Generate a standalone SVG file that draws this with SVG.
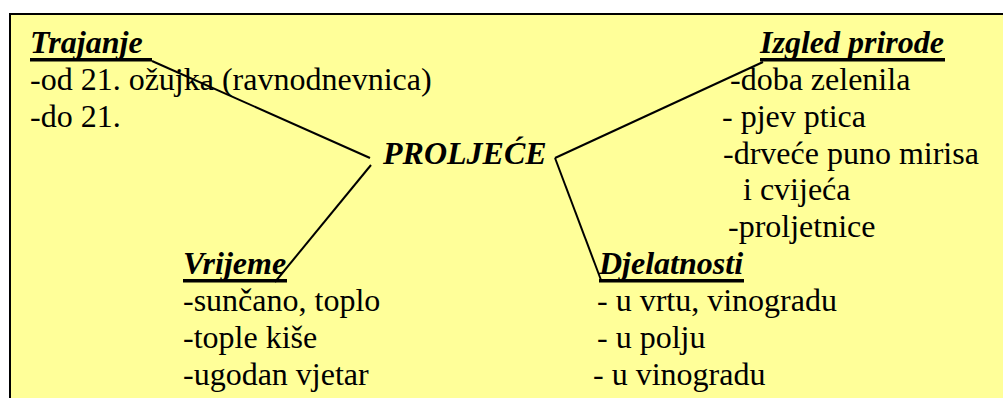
<svg xmlns="http://www.w3.org/2000/svg" width="1003" height="398" viewBox="0 0 1003 398">
  <style>
    text { font-family: "Liberation Serif", "Times New Roman", serif; font-size: 32px; fill: #000; }
    .head { font-weight: bold; font-style: italic; }
    .ul { fill: #000; }
    .conn { stroke: #000; stroke-width: 2; fill: none; }
  </style>
  <rect x="0" y="0" width="1003" height="398" fill="#ffffff"/>
  <rect id="background" x="10" y="14" width="1010" height="400" fill="#FFFF99" stroke="#000" stroke-width="2"/>

  <g id="connectors">
    <line class="conn" x1="152" y1="61" x2="370" y2="158"/>
    <line class="conn" x1="371" y1="165" x2="275" y2="282"/>
    <line class="conn" x1="763" y1="62" x2="555" y2="158"/>
    <line class="conn" x1="555" y1="158" x2="601" y2="280"/>
  </g>

  <g id="center">
    <text class="head" x="383" y="164">PROLJEĆE</text>
  </g>

  <g id="trajanje">
    <text class="head" x="30" y="53">Trajanje</text>
    <rect class="ul" x="30" y="58" width="122" height="3.5"/>
    <text x="30" y="90">-od 21. ožujka (ravnodnevnica)</text>
    <text x="30" y="127">-do 21.</text>
  </g>

  <g id="izgled">
    <text class="head" x="760" y="53">Izgled prirode</text>
    <rect class="ul" x="760" y="58" width="185" height="3.5"/>
    <text x="730" y="90">-doba zelenila</text>
    <text x="722" y="127">- pjev ptica</text>
    <text x="723" y="164">-drveće puno mirisa</text>
    <text x="743" y="200">i cvijeća</text>
    <text x="728" y="237">-proljetnice</text>
  </g>

  <g id="vrijeme">
    <text class="head" x="183" y="274">Vrijeme</text>
    <rect class="ul" x="183" y="279" width="104" height="3.5"/>
    <text x="183" y="311">-sunčano, toplo</text>
    <text x="183" y="348">-tople kiše</text>
    <text x="183" y="385">-ugodan vjetar</text>
  </g>

  <g id="djelatnosti">
    <text class="head" x="599" y="274">Djelatnosti</text>
    <rect class="ul" x="599" y="279" width="145" height="3.5"/>
    <text x="597" y="311">- u vrtu, vinogradu</text>
    <text x="597" y="348">- u polju</text>
    <text x="593" y="385">- u vinogradu</text>
  </g>
</svg>
